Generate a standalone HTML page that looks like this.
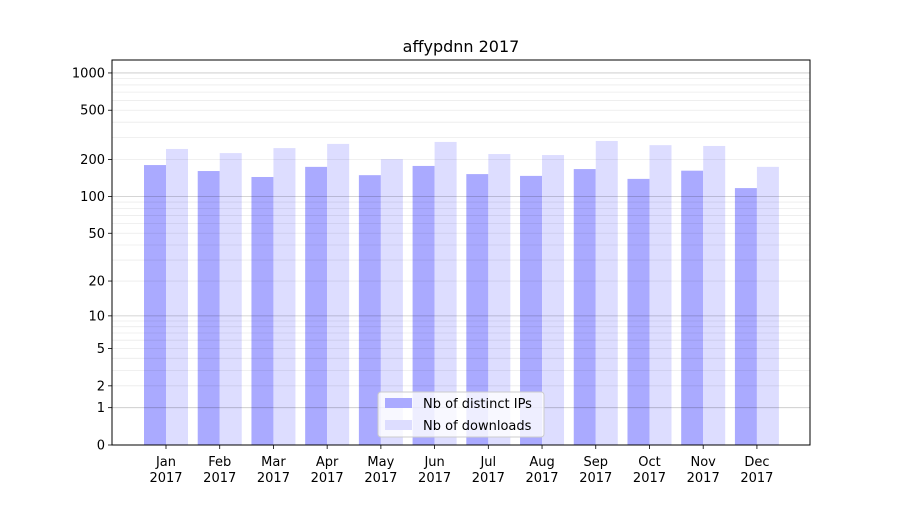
<!DOCTYPE html>
<html><head><meta charset="utf-8"><style>
body{margin:0;background:#fff;font-family:"Liberation Sans","DejaVu Sans",sans-serif;}
svg text{font-family:"DejaVu Sans","Liberation Sans",sans-serif;}
</style></head><body>
<svg id="chart" width="900" height="500"></svg>
<script>
const months=["Jan","Feb","Mar","Apr","May","Jun","Jul","Aug","Sep","Oct","Nov","Dec"];
const ips=[180,161,144,174,149,177,152,147,167,139,162,117];
const downloads=[243,225,247,267,201,277,221,217,282,261,257,174];
const yTicks=[0,1,2,5,10,20,50,100,200,500,1000];
const majorGrid=[1,10,100,1000];
const NS="http://www.w3.org/2000/svg";
const svg=document.getElementById('chart');
const L=112,R=810,T=60,B=445;
function y(v){return B-124*Math.log10(v+1);}
function x(i){return 166+i*53.72;}
function el(t,a,p){const e=document.createElementNS(NS,t);for(const k in a)e.setAttribute(k,a[k]);(p||svg).appendChild(e);return e;}
months.forEach((m,i)=>{
const b1=el('rect',{x:x(i)-22,y:y(ips[i]),width:22,height:B-y(ips[i]),fill:'#aaaaff'});


const b2=el('rect',{x:x(i),y:y(downloads[i]),width:22,height:B-y(downloads[i]),fill:'#ddddff'});


el('line',{x1:x(i),x2:x(i),y1:B,y2:B+4,stroke:'#000','stroke-width':0.8});
const t=el('text',{x:x(i),y:B+21,'text-anchor':'middle','font-size':13});
t.textContent=m;


const t2=el('text',{x:x(i),y:B+37,'text-anchor':'middle','font-size':13});
t2.textContent='2017';


});
for(let d=1;d<=1000;d*=10){for(let m=2;m<=9;m++){const v=m*d;if(y(v)<T)continue;
const g=el('line',{x1:L,x2:R,y1:y(v),y2:y(v),stroke:'#000','stroke-opacity':0.08,'stroke-width':0.8});

}}
majorGrid.forEach(v=>{const g=el('line',{x1:L,x2:R,y1:y(v),y2:y(v),stroke:'#000','stroke-opacity':0.22,'stroke-width':0.8});

});
yTicks.forEach(v=>{
el('line',{x1:L-4,x2:L,y1:y(v),y2:y(v),stroke:'#000','stroke-width':0.8});
const t=el('text',{x:L-7,y:y(v)+4.5,'text-anchor':'end','font-size':13});
t.textContent=v;


});
const fr=el('rect',{x:L,y:T,width:R-L,height:B-T,fill:'none',stroke:'#000','stroke-width':1});


const title=el('text',{x:461,y:52,'text-anchor':'middle','font-size':16});
title.textContent='affypdnn 2017';


const lg=el('g',{});


el('rect',{x:378,y:392,width:166,height:45,rx:3,fill:'#fff','fill-opacity':0.8,stroke:'#ccc'},lg);
el('rect',{x:385,y:398,width:27,height:10,fill:'#aaaaff'},lg);
el('rect',{x:385,y:420,width:27,height:10,fill:'#ddddff'},lg);
const l1=el('text',{x:423,y:408,'font-size':13},lg);l1.textContent='Nb of distinct IPs';


const l2=el('text',{x:423,y:430,'font-size':13},lg);l2.textContent='Nb of downloads';


</script>
</body></html>
